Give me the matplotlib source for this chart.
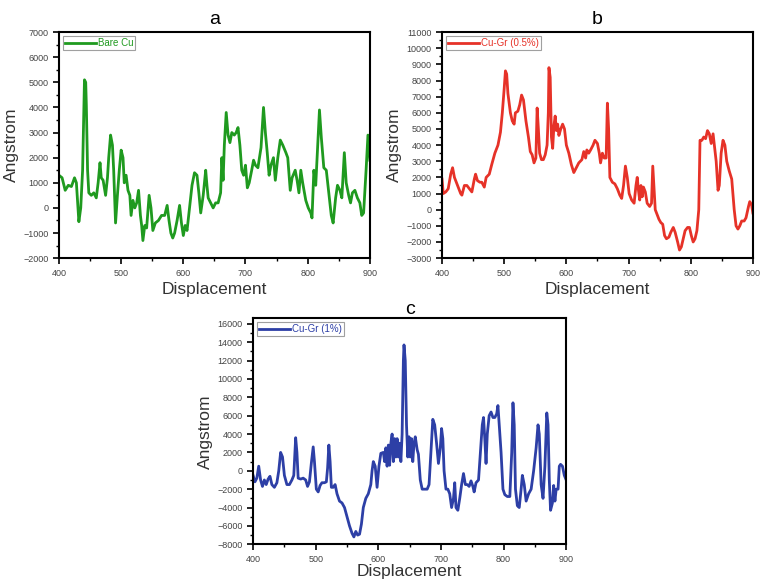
import matplotlib.pyplot as plt
from matplotlib.ticker import MultipleLocator

plt.rcParams['font.family'] = ['Liberation Sans', 'DejaVu Sans']

# Panel a: Bare Cu
x_a = [400, 405, 410, 415, 420, 425, 428, 432, 435, 438, 441, 443, 444, 446, 448, 452, 456, 460,
       463, 466, 468, 471, 475, 478, 480, 483, 486, 488, 491, 494, 497, 500, 503, 505, 508, 511,
       514, 516, 519, 522, 525, 528, 531, 533, 535, 538, 541, 545, 548, 551, 555, 560, 565, 570,
       574, 577, 580, 583, 586, 590, 594, 597, 600, 603, 606, 610, 614, 618, 622, 625, 628, 632,
       636, 638, 640, 644, 648, 652, 656, 660, 662, 664, 666, 669, 672, 675, 678, 682, 685, 688,
       691, 694, 697, 700, 703, 706, 710, 713, 716, 720, 725, 729, 732, 735, 738, 741, 745, 748,
       752, 756, 760, 765, 768, 772, 775, 780, 783, 786, 789, 792, 797, 801, 805, 807, 810, 813,
       817, 819, 822, 826, 830, 834, 838, 841, 845, 848, 852, 855, 859, 862, 866, 869, 872, 876,
       880, 884, 887, 890, 894, 897, 900]
y_a = [1300, 1200, 700, 900, 850, 1200, 1000, -550, 0, 1500, 5100, 5000, 4100, 1500, 600, 500,
       600, 400, 1000, 1800, 1200, 1100, 500, 1200, 2000, 2900, 2500, 1500, -600, 500, 1500, 2300,
       2000, 1000, 1300, 700, 500, -300, 300, 0, 200, 700, -300, -700, -1300, -700, -800, 500, 0,
       -900, -600, -500, -300, -300, 100, -500, -1000, -1200, -1000, -500, 100, -600, -1100, -700,
       -900, 0, 900, 1400, 1300, 600, -200, 500, 1500, 900, 400, 200, 0, 200, 200, 600, 2000, 1100,
       2500, 3800, 2900, 2600, 3000, 2900, 3000, 3200, 2500, 1500, 1300, 1700, 800, 1000, 1500,
       1900, 1700, 1600, 2400, 4000, 3000, 2200, 1300, 1700, 2000, 1100, 2000, 2700, 2500, 2200,
       2000, 700, 1200, 1500, 1100, 600, 1500, 1000, 300, 0, -200, -400, 1500, 900, 2900, 3900,
       2800, 1600, 1500, 600, -300, -600, 400, 900, 700, 400, 2200, 1000, 500, 200, 600, 700, 400,
       200, -300, -200, 1500, 2900, 1900]

# Panel b: Cu-Gr (0.5%)
x_b = [400, 402, 406, 410, 414, 417, 420, 425, 430, 432, 436, 440, 444, 448, 452, 454, 457, 461,
       464, 468, 471, 476, 480, 485, 490, 494, 497, 500, 502, 504, 506, 510, 513, 516, 518, 522,
       525, 528, 531, 535, 539, 542, 545, 548, 551, 553, 555, 557, 560, 563, 566, 569, 571, 572,
       574, 576, 578, 580, 582, 584, 586, 588, 591, 594, 597, 600, 604, 608, 612, 616, 620, 625,
       628, 631, 633, 636, 639, 643, 646, 650, 653, 655, 658, 661, 664, 666, 668, 670, 674, 678,
       682, 686, 689, 692, 695, 698, 701, 705, 709, 712, 714, 716, 718, 720, 722, 724, 727, 730,
       734, 737, 739, 741, 743, 746, 749, 752, 755, 758, 761, 765, 768, 772, 775, 779, 782, 785,
       788, 791, 795, 798, 801, 804, 807, 810, 813, 815, 818, 821, 824, 827, 830, 833, 836, 838,
       841, 844, 846, 849, 852, 855, 858, 862, 866, 870, 873, 876, 879, 882, 886, 889, 893, 895,
       898, 900]
y_b = [1900, 1000, 1100, 1300, 2200, 2600, 2000, 1500, 1000, 900, 1500, 1500, 1300, 1100, 1900,
       2200, 1800, 1700, 1700, 1400, 2000, 2200, 2800, 3500, 4000, 4800, 6000, 7500, 8600, 8400,
       7200, 6000, 5500, 5300, 6000, 6100, 6500, 7100, 6800, 5500, 4500, 3600, 3400, 2900, 3200,
       6300, 5000, 3500, 3100, 3100, 3400, 4000, 6000, 8800, 8200, 4500, 3800, 5200, 5800, 4900,
       5300, 4600, 5000, 5300, 5000, 4000, 3500, 2800, 2300, 2600, 2900, 3100, 3600, 3200, 3700,
       3500, 3700, 4000, 4300, 4100, 3500, 2900, 3500, 3200, 3200, 6600, 5000, 2000, 1700, 1600,
       1300, 900, 700, 1500, 2700, 2000, 1000, 600, 400, 1500, 2000, 1200, 600, 1500, 800, 1400,
       1100, 400, 200, 400, 2700, 1400, 0, -300, -600, -800, -900, -1600, -1800, -1700, -1400,
       -1100, -1400, -2000, -2500, -2300, -1800, -1300, -1100, -1100, -1600, -2000, -1800, -1300,
       0, 4300, 4300, 4500, 4400, 4900, 4700, 4100, 4700, 4000, 3000, 1200, 1500, 3500, 4300,
       4000, 3000, 2400, 1900, 0, -1000, -1200, -1000, -700, -700, -500, 200, 500, 300, -200]

# Panel c: Cu-Gr (1%)
x_c = [400, 403, 406, 409, 412, 415, 418, 421, 424, 427, 430, 434, 438, 441, 444, 447, 450, 454,
       458, 462, 465, 468, 470, 472, 476, 480, 484, 487, 490, 493, 496, 498, 501, 504, 507, 510,
       514, 517, 519, 521, 523, 525, 528, 531, 534, 538, 542, 546, 550, 554, 558, 561, 564, 567,
       570, 573, 576, 580, 584, 588, 590, 592, 595, 598, 601, 604, 608, 610, 612, 614, 616, 618,
       620, 622, 624, 626, 628, 630, 632, 634, 636, 638, 640, 641, 643, 645, 647, 649, 651, 653,
       655, 657, 659, 662, 664, 667, 670, 674, 678, 681, 684, 687, 690, 693, 696, 699, 701, 703,
       705, 708, 711, 714, 717, 720, 722, 724, 727, 730, 733, 736, 739, 742, 745, 748, 751, 753,
       756, 760, 763, 766, 768, 770, 772, 774, 777, 780, 783, 786, 789, 791, 793, 796, 799, 802,
       806, 810, 813, 815, 817, 819, 822, 825, 828, 830, 833, 836, 840, 844, 848, 852, 855, 857,
       860, 863, 866, 869, 871, 873, 875, 878, 880, 882, 884, 887, 889, 891, 894, 897, 900]
y_c = [-500, -1200, -800, 500, -1000, -1700, -1000, -1500, -900, -600, -1500, -1800, -1300, 0,
       2000, 1500, -500, -1500, -1500, -1000, -500, 3600, 2000, -800, -900, -800, -1000, -1700,
       -1200, 800, 2600, 1000, -2000, -2300, -1600, -1300, -1300, -1200, 300, 2800, 1000, -1800,
       -1800, -1500, -2500, -3300, -3500, -4000, -5000, -6000, -6800, -7200, -6600, -7000, -6900,
       -5800, -4000, -3000, -2500, -1500, 0, 1000, 500, -1800, 500, 1900, 2000, 1000, 2500, 500,
       2800, 600, 3000, 4000, 1000, 3500, 1500, 3500, 1500, 3000, 1000, 4000, 12000, 13700, 12000,
       5000, 1500, 3700, 1500, 3500, 1000, 3000, 3700, 2300, 1800, -1000, -2000, -2000, -2000,
       -1500, 2000, 5600, 5000, 3000, 800, 2500, 4600, 3500, 0, -2000, -2000, -2500, -4000, -3000,
       -1300, -4000, -4300, -3000, -1500, -300, -1500, -1500, -1700, -1100, -1700, -2300, -1300,
       -1000, 2000, 5000, 5800, 3500, 800, 4000, 6000, 6400, 5800, 5800, 6200, 7100, 5000, 2000,
       -2000, -2600, -2800, -2800, 2000, 7400, 5000, -2000, -3800, -4000, -2000, -500, -1500,
       -3300, -2500, -2000, 0, 2500, 5000, 4000, -1500, -3000, 500, 6300, 5000, -1000, -4300,
       -3500, -1600, -3300, -2000, -2000, 500, 700, 500, -500, -1000]

titles = ['a', 'b', 'c']
labels = ['Bare Cu', 'Cu-Gr (0.5%)', 'Cu-Gr (1%)']
colors = ['#1f9a1f', '#e63228', '#2d3fa6']
ylims = [(-2000, 7000), (-3000, 11000), (-8000, 16600)]
ysteps = [1000, 1000, 2000]

fig = plt.figure(figsize=(7.6, 5.84), dpi=100)
positions = [[0.0776, 0.558, 0.409, 0.387],
             [0.5816, 0.558, 0.409, 0.387],
             [0.333, 0.068, 0.412, 0.387]]
title_pads = [6, 6, 3]
xlabel_pads = [3, 3, 0.5]

data = [(x_a, y_a), (x_b, y_b), (x_c, y_c)]
for i, (xs, ys) in enumerate(data):
    ax = fig.add_axes(positions[i])
    ax.plot(xs, ys, color=colors[i], lw=2, label=labels[i])
    ax.set_xlim(400, 900)
    ax.set_ylim(*ylims[i])
    ax.xaxis.set_major_locator(MultipleLocator(100))
    ax.xaxis.set_minor_locator(MultipleLocator(50))
    ax.yaxis.set_major_locator(MultipleLocator(ysteps[i]))
    ax.yaxis.set_minor_locator(MultipleLocator(ysteps[i] / 2))
    ax.tick_params(axis='both', which='major', labelsize=6.5, labelcolor='#444444',
                   length=4, width=1.2, direction='out')
    ax.tick_params(axis='both', which='minor', length=2, width=1, direction='out')
    for sp in ax.spines.values():
        sp.set_linewidth(1.5)
    ax.set_title(titles[i], fontsize=14, pad=title_pads[i])
    ax.set_xlabel('Displacement', fontsize=12.5, labelpad=xlabel_pads[i], color='#333333')
    ax.set_ylabel('Angstrom', fontsize=12.5, labelpad=3, color='#333333')
    leg = ax.legend(loc='upper left', fontsize=7, handlelength=3.2, borderpad=0.2,
                    borderaxespad=0.4, fancybox=False, labelcolor=colors[i],
                    handletextpad=0.2)
    leg.get_frame().set_edgecolor('#888888')
    leg.get_frame().set_linewidth(0.8)

plt.savefig('out.png', dpi=100)
